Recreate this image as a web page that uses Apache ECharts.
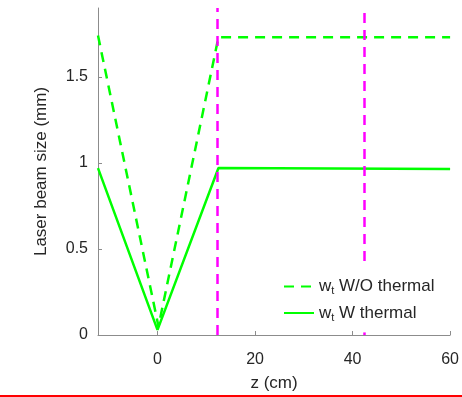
<!DOCTYPE html>
<html>
<head>
    <meta charset="utf-8">
    <title>Laser beam size</title>
    <script src="https://cdn.jsdelivr.net/npm/echarts@6/dist/echarts.min.js"></script>
    <style>
        html, body { margin: 0; padding: 0; background: #fff; }
        #chart { width: 462px; height: 397px; }
    </style>
</head>
<body>
<div id="chart"></div>
<script type="text/javascript">
    // z positions (cm) and beam size (mm)
    var zNoThermal = [-12.2, 0.2, 12.5, 60];
    var wNoThermal = [1.74, 0.05, 1.73, 1.73];
    var zThermal = [-12.2, 0, 12.5, 60];
    var wThermal = [0.97, 0.03, 0.97, 0.965];
    // lens positions (magenta dashed lines)
    var lensZ = [12.3, 42.3];
    // the second lens line is hidden behind the legend box between these heights
    var legendGap = [0.015, 0.43];
    var xTicks = [0, 20, 40, 60];
    var yMax = 1.9;

    function pairs(xs, ys) {
        return xs.map(function (x, i) { return [x, ys[i]]; });
    }

    var font = '"Liberation Sans", Arial, sans-serif';
    var textColor = '#262626';
    var axisColor = '#8c8c8c';

    var lensLines = [
        [{ coord: [lensZ[0], 0] }, { coord: [lensZ[0], yMax] }],
        [{ coord: [lensZ[1], legendGap[1]] }, { coord: [lensZ[1], yMax] }],
        [{ coord: [lensZ[1], 0] }, { coord: [lensZ[1], legendGap[0]] }]
    ];

    var myChart = echarts.init(document.getElementById('chart'));
    myChart.setOption({
        animation: false,
        grid: { left: 98, right: 9, top: 8, bottom: 58, containLabel: false },
        legend: {
            z: 10,
            orient: 'vertical',
            left: 273,
            top: 264,
            padding: [14, 10, 4, 10],
            itemWidth: 30,
            itemHeight: 12,
            itemGap: 8,
            itemStyle: { opacity: 0 },
            textStyle: {
                fontFamily: font,
                color: textColor,
                rich: {
                    n: { fontSize: 17, fontFamily: font, color: textColor },
                    s: { fontSize: 11, fontFamily: font, color: textColor, padding: [9, 0, 0, 0] }
                }
            },
            formatter: function (name) {
                return name === 'noThermal'
                    ? '{n|w}{s|t}{n| W/O thermal}'
                    : '{n|w}{s|t}{n| W thermal}';
            },
            data: ['noThermal', 'thermal']
        },
        xAxis: {
            type: 'value',
            min: -12.2,
            max: 60,
            name: 'z (cm)',
            nameLocation: 'middle',
            nameGap: 40,
            nameTextStyle: { fontFamily: font, fontSize: 17, color: textColor },
            axisLine: { show: true, onZero: false, lineStyle: { color: axisColor, width: 1 } },
            axisTick: { show: true, inside: true, length: 4, customValues: xTicks, lineStyle: { color: axisColor } },
            axisLabel: { customValues: xTicks, fontFamily: font, fontSize: 16, color: textColor, margin: 17 },
            splitLine: { show: false }
        },
        yAxis: {
            type: 'value',
            min: 0,
            max: yMax,
            interval: 0.5,
            name: 'Laser beam size (mm)',
            nameLocation: 'middle',
            nameGap: 48,
            nameTextStyle: { fontFamily: font, fontSize: 17, color: textColor },
            axisLine: { show: true, onZero: false, lineStyle: { color: axisColor, width: 1 } },
            axisTick: { show: true, inside: true, length: 4, lineStyle: { color: axisColor } },
            axisLabel: { fontFamily: font, fontSize: 16, color: textColor, margin: 10, showMaxLabel: false },
            splitLine: { show: false }
        },
        series: [
            {
                name: 'noThermal',
                type: 'line',
                symbol: 'none',
                data: pairs(zNoThermal, wNoThermal),
                lineStyle: { color: '#00ff00', width: 2.5, type: [10, 7] },
                itemStyle: { color: '#00ff00' },
                markLine: {
                    silent: true,
                    symbol: 'none',
                    label: { show: false },
                    lineStyle: { color: '#ff00ff', width: 2.5, type: [10, 7] },
                    data: lensLines
                }
            },
            {
                name: 'thermal',
                type: 'line',
                symbol: 'none',
                data: pairs(zThermal, wThermal),
                lineStyle: { color: '#00ff00', width: 2.5 },
                itemStyle: { color: '#00ff00' }
            }
        ],
        graphic: [
            {
                type: 'rect',
                shape: { x: 0, y: 395, width: 462, height: 2 },
                style: { fill: '#ff0000' }
            }
        ]
    });
</script>
</body>
</html>
